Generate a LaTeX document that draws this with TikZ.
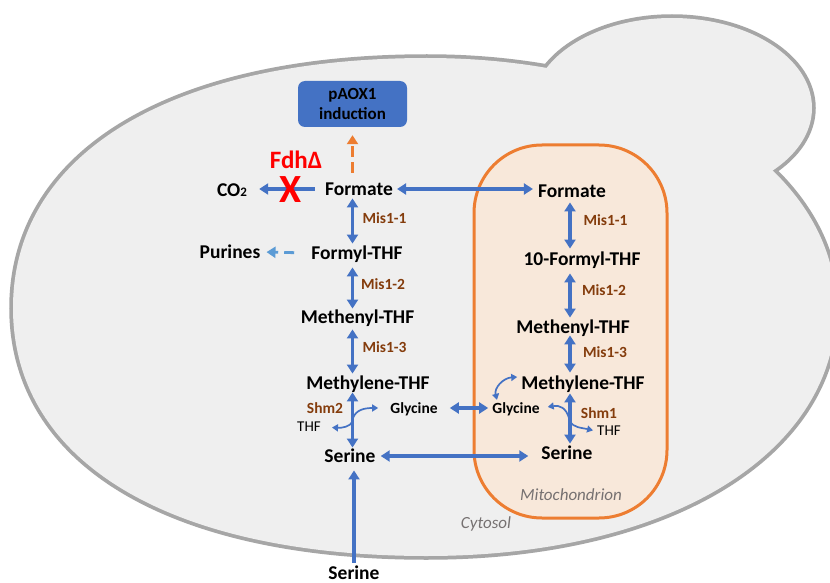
\documentclass[tikz,border=0pt]{standalone}
\usepackage{fontspec}
\setmainfont{Carlito}
\usetikzlibrary{arrows.meta}
\definecolor{cellfill}{HTML}{EFEFEF}
\definecolor{cellline}{HTML}{A6A6A6}
\definecolor{arrblue}{HTML}{4472C4}
\definecolor{lightblue}{HTML}{5B9BD5}
\definecolor{mitoline}{HTML}{ED7D31}
\definecolor{mitofill}{HTML}{F8E8DA}
\definecolor{enzbrown}{HTML}{843C0C}
\definecolor{labelgray}{HTML}{767171}
\definecolor{fdhred}{HTML}{FF0000}
\begin{document}
\begin{tikzpicture}[x=1pt,y=-1pt,
  met/.style={font=\fontsize{19.5}{21}\selectfont\bfseries, inner sep=1pt, text height=12.5pt, text depth=0pt},
  enz/.style={font=\fontsize{15.5}{17}\selectfont\bfseries, text=enzbrown, inner sep=1pt, text height=10pt, text depth=0pt},
  smallmet/.style={font=\fontsize{15.5}{17}\selectfont\bfseries, inner sep=1pt, text height=10pt, text depth=0pt},
  thflab/.style={font=\fontsize{15}{17}\selectfont, inner sep=1pt, text height=9.7pt, text depth=0pt},
  regionlab/.style={font=\fontsize{17}{19}\selectfont\itshape, text=labelgray, inner sep=1pt},
  tipbig/.tip={Triangle[length=9pt,width=11pt]},
  tipsmall/.tip={Triangle[length=6pt,width=7pt]},
  conv/.style={draw=arrblue, line width=3.1pt, -tipbig},
  both/.style={draw=arrblue, line width=3.1pt, tipbig-tipbig},
  thinarrow/.style={draw=arrblue, line width=1.7pt, -tipsmall},
  thinboth/.style={draw=arrblue, line width=1.7pt, tipsmall-tipsmall}]
\clip (0,0) rectangle (830,583);
\fill[white] (0,0) rectangle (830,583);
% cell outline
\def\mainpath{(13,308) .. controls (13,154) and (170,58) .. (427,58) .. controls (665,58) and (836,168) .. (836,308) .. controls (836,452) and (672,556) .. (427,556) .. controls (170,556) and (13,462) .. (13,308) -- cycle}
\draw[cellline, line width=7.5pt] \mainpath;
\draw[cellline, line width=7.5pt] (672,108) ellipse [x radius=140, y radius=90];
\fill[cellfill] \mainpath;
\fill[cellfill] (672,108) ellipse [x radius=140, y radius=90];
% mitochondrion
\node[draw=mitoline, fill=mitofill, line width=3pt, rounded corners=68pt, minimum width=193pt, minimum height=373pt, inner sep=0pt] (mito) at (570.5,331.5) {};
\node[regionlab] (mitolab) at (571,495) {Mitochondrion};
\node[regionlab] (cytolab) at (486,524) {Cytosol};
% columns
\coordinate (colc) at (352.5,0);
\coordinate (colm) at (570,0);
% box
\node[fill=arrblue, rounded corners=7pt, minimum width=109pt, minimum height=46pt, align=center, inner sep=0pt, font=\fontsize{17}{20}\selectfont\bfseries] (paox) at (352.5,104) {pAOX1\\induction};
% cytosol nodes
\node[met] (fcyt) at (359,189) {Formate};
\node[met] (co2) at (232,190) {CO{\fontsize{13}{13}\selectfont 2}};
\node[font=\fontsize{25}{25}\selectfont\bfseries, text=fdhred, inner sep=0pt] (fdh) at (296,160) {FdhΔ};
\node[met] (formyl) at (357,253) {Formyl-THF};
\node[met] (purines) at (230,252) {Purines};
\node[met] (menyl) at (357.5,317) {Methenyl-THF};
\node[met] (mlenc) at (368,383) {Methylene-THF};
\node[smallmet] (glyc) at (414,408) {Glycine};
\node[thflab] (thfc) at (309,427) {THF};
\node[met] (serc) at (350,456) {Serine};
\node[met] (serb) at (354,573) {Serine};
\node[enz] (e11c) at (384.5,218) {Mis1-1};
\node[enz] (e12c) at (383,284) {Mis1-2};
\node[enz] (e13c) at (384.5,347) {Mis1-3};
\node[enz] (shm2) at (325,408) {Shm2};
% mito nodes
\node[met] (fmit) at (572,191) {Formate};
\node[met] (fmylm) at (582,259) {10-Formyl-THF};
\node[met] (menm) at (573,327) {Methenyl-THF};
\node[met] (mlenm) at (583,383) {Methylene-THF};
\node[smallmet] (glym) at (516,408) {Glycine};
\node[thflab] (thfm) at (609,431) {THF};
\node[met] (serm) at (567,453) {Serine};
\node[enz] (e11m) at (605.5,220) {Mis1-1};
\node[enz] (e12m) at (604,290) {Mis1-2};
\node[enz] (e13m) at (605,352) {Mis1-3};
\node[enz] (shm1) at (599,413) {Shm1};
% connectors cytosol
\draw[conv, shorten <=9pt, shorten >=11pt] (fcyt.west) -- (co2.east |- fcyt.west);
\node[font=\fontsize{40}{40}\selectfont\bfseries, text=fdhred, inner sep=0pt] (xmark) at (291,190) {X};
\draw[draw=mitoline, line width=2.6pt, dash pattern=on 11pt off 5pt, -tipbig, shorten <=9pt, shorten >=8pt] (fcyt.north -| colc) -- (paox.south -| colc);
\draw[draw=lightblue, line width=2.8pt, dash pattern=on 10pt off 6pt, -tipbig, shorten <=16pt, shorten >=5pt] (formyl.west) -- (purines.east);
\draw[both, shorten <=2pt, shorten >=2pt] (fcyt.south -| colc) -- (formyl.north -| colc);
\draw[both, shorten <=7pt, shorten >=1pt] (formyl.south -| colc) -- (menyl.north -| colc);
\draw[both, shorten <=5pt, shorten >=2pt] (menyl.south -| colc) -- (mlenc.north -| colc);
\draw[both, shorten <=2pt, shorten >=1pt] (mlenc.south -| colc) -- (serc.north -| colc);
\coordinate (s2a) at (353,418);
\coordinate (s2b) at (353,421);
\draw[thinarrow, shorten >=11pt] (s2a) .. controls (356,410) and (364,408) .. (glyc.west);
\draw[thinarrow, shorten >=10pt] (s2b) .. controls (350,427) and (342,428) .. (thfc.east);
\draw[conv, shorten <=3pt, shorten >=7pt] (serb.north) -- (serb.north |- serc.south);
% connectors between compartments
\draw[both, shorten <=3pt, shorten >=4pt] (fcyt.east) -- (fmit.west |- fcyt.east);
\draw[both, shorten <=11pt, shorten >=3pt] (glyc.east) -- (glym.west);
\draw[both, shorten <=4pt, shorten >=12pt] (serc.east) -- (serm.west |- serc.east);
% connectors mitochondrion
\draw[both, shorten <=4pt, shorten >=3pt] (fmit.south -| colm) -- (fmylm.north -| colm);
\draw[both, shorten <=7pt, shorten >=2pt] (fmylm.south -| colm) -- (menm.north -| colm);
\draw[both, shorten <=1pt, shorten >=3pt] (menm.south -| colm) -- (mlenm.north -| colm);
\draw[both, shorten <=3pt, shorten >=2pt] (mlenm.south -| colm) -- (serm.north -| colm);
\coordinate (s1a) at (569,418);
\coordinate (s1b) at (570,421);
\draw[thinarrow, shorten >=7pt] (s1a) .. controls (566,408) and (560,405) .. (glym.east);
\draw[thinarrow, shorten >=3pt] (s1b) .. controls (573,428) and (583,428) .. (thfm.west);
\draw[thinboth] ([xshift=-19pt,yshift=2pt]glym.north) .. controls (494,388) and (503,378) .. ([xshift=-3pt,yshift=6pt]mlenm.west);
\end{tikzpicture}
\end{document}
